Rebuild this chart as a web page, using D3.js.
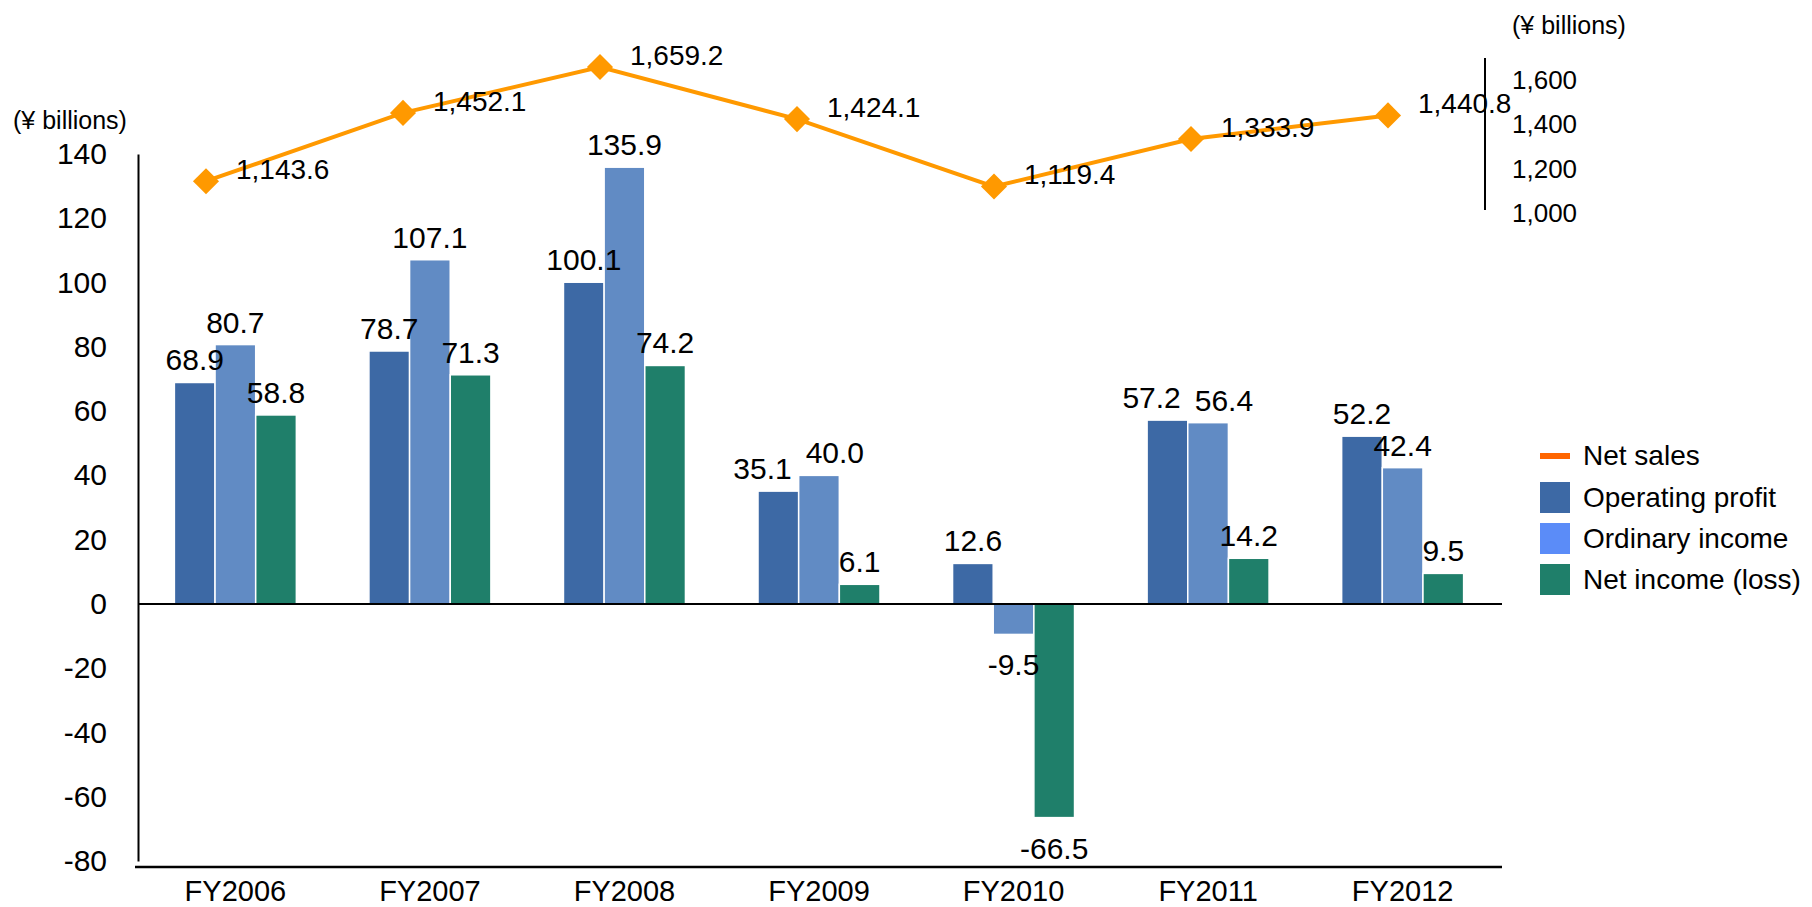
<!DOCTYPE html>
<html>
<head>
<meta charset="utf-8">
<script src="https://cdn.jsdelivr.net/npm/d3@7"></script>
<style>
  html, body { margin: 0; padding: 0; background: #fff; }
  svg { display: block; font-family: "Liberation Sans", Arial, sans-serif; }
</style>
</head>
<body>
<svg id="chart" width="1812" height="907"></svg>
<script>
// Fiscal years and results (¥ billions)
const categories = ["FY2006", "FY2007", "FY2008", "FY2009", "FY2010", "FY2011", "FY2012"];
const netSales = [1143.6, 1452.1, 1659.2, 1424.1, 1119.4, 1333.9, 1440.8];
const operatingProfit = [68.9, 78.7, 100.1, 35.1, 12.6, 57.2, 52.2];
const ordinaryIncome = [80.7, 107.1, 135.9, 40.0, -9.5, 56.4, 42.4];
const netIncome = [58.8, 71.3, 74.2, 6.1, -66.5, 14.2, 9.5];

const leftTicks = [140, 120, 100, 80, 60, 40, 20, 0, -20, -40, -60, -80];
const rightTicks = [1000, 1200, 1400, 1600];
const unitLabel = "(¥ billions)";

const barSeries = [
  { key: "op", name: "Operating profit", values: operatingProfit, color: "#3D69A5", legendColor: "#3D69A5" },
  { key: "ord", name: "Ordinary income", values: ordinaryIncome, color: "#618BC4", legendColor: "#5B8CF8" },
  { key: "net", name: "Net income (loss)", values: netIncome, color: "#1F7F6A", legendColor: "#1F7F6A" }
];

// Number formats with a plain hyphen for negatives
const locale = d3.formatLocale({ decimal: ".", thousands: ",", grouping: [3], currency: ["", ""], minus: "-" });
const fmtInt = locale.format("d");
const fmt1 = locale.format(".1f");
const fmtSales = locale.format(",.1f");
const fmtThousands = locale.format(",");

const svg = d3.select("#chart");

// Scales
const x = d3.scaleBand().domain(categories).range([138, 1500]).paddingInner(0.373).paddingOuter(0.187);
const x1 = d3.scaleBand().domain(barSeries.map(s => s.key)).range([0, x.bandwidth()]);
const y = d3.scaleLinear().domain([-80, 140]).range([861, 154]);
const xLine = d3.scalePoint().domain(categories).range([206, 1388]);
const y2 = d3.scaleLinear().domain([1000, 1700]).range([213, 58]);

// Left axis
const leftAxis = svg.append("g")
  .attr("transform", `translate(${x.range()[0]},0)`)
  .call(d3.axisLeft(y).tickValues(leftTicks).tickSize(0).tickPadding(31).tickFormat(fmtInt));
leftAxis.select(".domain").attr("stroke", "#000").attr("stroke-width", 2);
leftAxis.selectAll("text").attr("font-size", 30).attr("fill", "#000")
  .attr("font-family", "Liberation Sans, Arial, sans-serif");

svg.append("text").attr("x", 13).attr("y", 120).attr("dy", "0.35em")
  .attr("font-size", 25).text(unitLabel);

// Bottom axis
const xAxisY = y(-80) + 6;
const bottomAxis = svg.append("g")
  .attr("transform", `translate(0,${xAxisY})`)
  .call(d3.axisBottom(x).tickSize(0).tickPadding(13));
bottomAxis.select(".domain").attr("stroke", "#000").attr("stroke-width", 2.5)
  .attr("d", `M${x.range()[0] - 3},0H${x.range()[1] + 2}`);
bottomAxis.selectAll("text").attr("font-size", 29).attr("fill", "#000")
  .attr("font-family", "Liberation Sans, Arial, sans-serif");

// Bars
const groups = svg.append("g").selectAll("g")
  .data(categories)
  .join("g")
  .attr("transform", d => `translate(${x(d)},0)`);

groups.selectAll("rect")
  .data((d, i) => barSeries.map(s => ({ s, v: s.values[i] })))
  .join("rect")
  .attr("x", d => x1(d.s.key))
  .attr("width", x1.bandwidth())
  .attr("y", d => y(Math.max(0, d.v)))
  .attr("height", d => Math.abs(y(d.v) - y(0)))
  .attr("fill", d => d.s.color)
  .attr("stroke", "#fff")
  .attr("stroke-width", 1.5);

// Zero line
svg.append("line")
  .attr("x1", x.range()[0]).attr("x2", x.range()[1] + 2)
  .attr("y1", y(0)).attr("y2", y(0))
  .attr("stroke", "#000").attr("stroke-width", 2);

// Bar value labels, nudged apart where neighbours collide
groups.each(function (cat, i) {
  const g = d3.select(this);
  const labels = barSeries.map(s => {
    const v = s.values[i];
    const t = g.append("text")
      .attr("text-anchor", "middle")
      .attr("font-size", 30)
      .attr("fill", "#000")
      .text(fmt1(v));
    const cx = x1(s.key) + x1.bandwidth() / 2;
    const by = v >= 0 ? y(v) - 12 : y(v) + 41;
    return { t, cx, by, w: t.node().getComputedTextLength() };
  });
  for (let k = 0; k < labels.length - 1; k++) {
    const a = labels[k], b = labels[k + 1];
    if (Math.abs(a.by - b.by) < 24) {
      const need = (a.w + b.w) / 2 + 14;
      const gap = b.cx - a.cx;
      if (gap < need) {
        const shift = (need - gap) / 2;
        a.cx -= shift;
        b.cx += shift;
      }
    }
  }
  labels.forEach(l => l.t.attr("x", l.cx).attr("y", l.by));
});

// Right axis (net sales)
const rightX = 1485;
const rightAxis = svg.append("g")
  .attr("transform", `translate(${rightX},0)`)
  .call(d3.axisRight(y2).tickValues(rightTicks).tickSize(0).tickPadding(27).tickFormat(fmtThousands));
rightAxis.select(".domain").attr("stroke", "#000").attr("stroke-width", 2)
  .attr("d", `M0,${y2(1700)}V${y2(1000) - 3}`);
rightAxis.selectAll("text").attr("font-size", 26).attr("fill", "#000")
  .attr("font-family", "Liberation Sans, Arial, sans-serif");

svg.append("text").attr("x", 1512).attr("y", 25).attr("dy", "0.35em")
  .attr("font-size", 25).text(unitLabel);

// Net sales line
const lineColor = "#FF9900";
const salesPts = categories.map((c, i) => ({ c, v: netSales[i] }));
svg.append("path")
  .datum(salesPts)
  .attr("fill", "none")
  .attr("stroke", lineColor)
  .attr("stroke-width", 4)
  .attr("d", d3.line().x(d => xLine(d.c)).y(d => y2(d.v)));

svg.append("g").selectAll("path")
  .data(salesPts)
  .join("path")
  .attr("d", d3.symbol(d3.symbolSquare, 340))
  .attr("transform", d => `translate(${xLine(d.c)},${y2(d.v)}) rotate(45)`)
  .attr("fill", lineColor);

svg.append("g").selectAll("text")
  .data(salesPts)
  .join("text")
  .attr("x", d => xLine(d.c) + 30)
  .attr("y", d => y2(d.v) - 12)
  .attr("dy", "0.35em")
  .attr("font-size", 28)
  .attr("fill", "#000")
  .text(d => fmtSales(d.v));

// Legend
const legend = svg.append("g").attr("transform", "translate(1540,0)");
legend.append("line")
  .attr("x1", 0).attr("x2", 30).attr("y1", 456).attr("y2", 456)
  .attr("stroke", "#FF6600").attr("stroke-width", 6);
legend.append("text").attr("x", 43).attr("y", 455).attr("dy", "0.35em")
  .attr("font-size", 28).text("Net sales");

const legendRows = legend.selectAll("g.row")
  .data(barSeries)
  .join("g")
  .attr("class", "row")
  .attr("transform", (d, i) => `translate(0,${482 + i * 41})`);
legendRows.append("rect").attr("width", 30).attr("height", 31).attr("fill", d => d.legendColor);
legendRows.append("text").attr("x", 43).attr("y", 15).attr("dy", "0.35em")
  .attr("font-size", 28).text(d => d.name);
</script>
</body>
</html>
